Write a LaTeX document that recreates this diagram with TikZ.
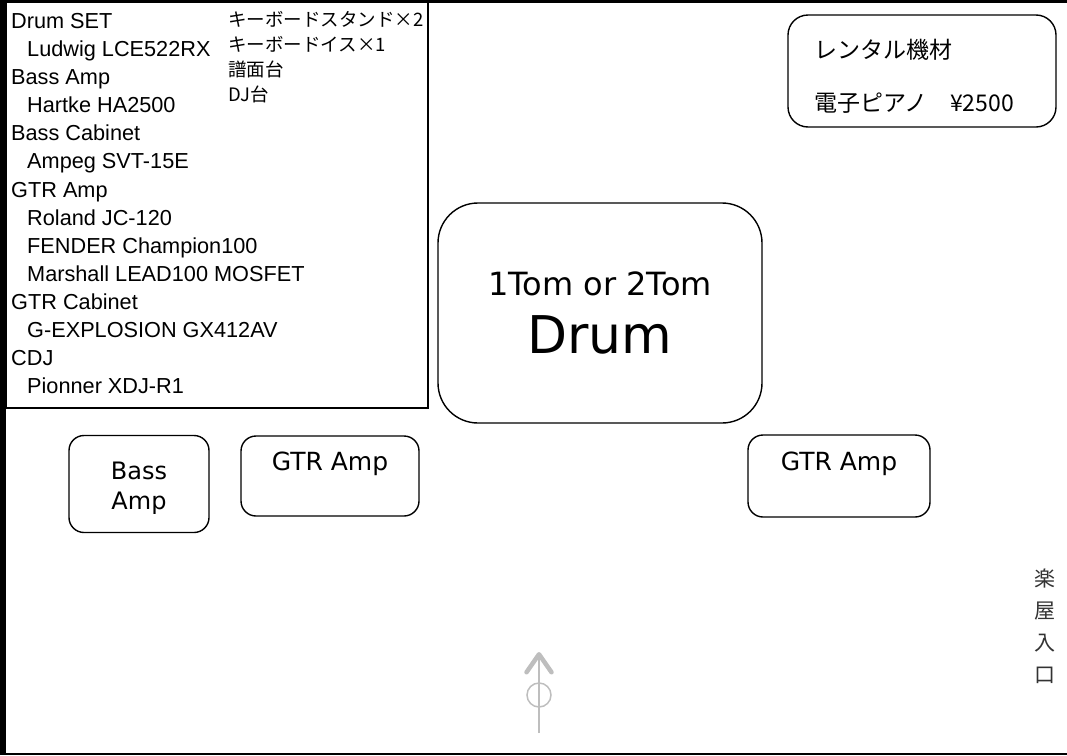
\documentclass[tikz,border=0pt]{standalone}
\usepackage{fontspec}
\setmainfont{Liberation Sans}
\newfontfamily\jpfont{Noto Sans CJK JP}
\newfontfamily\boxfont{DejaVu Sans}
\usetikzlibrary{arrows.meta}
\definecolor{doorgray}{HTML}{BEBEBE}
\newcommand{\pxsize}[2]{\fontsize{#1}{#2}\selectfont}

\begin{document}
\begin{tikzpicture}[x=1pt, y=-1pt,
	stagebox/.style={draw, line width=1.4pt, rounded corners=#1, inner sep=0pt},
	stagebox/.default=15pt,
	stagetext/.style={anchor=base, inner sep=0pt, font=\boxfont\pxsize{#1}{#1}},
	stagetext/.default=25,
	listhead/.style={anchor=base west, inner sep=0pt, font=\pxsize{21.7}{25}},
	listitem/.style={listhead},
	extra/.style={anchor=base west, inner sep=0pt, font=\jpfont\pxsize{18.5}{22}}]
	\useasboundingbox (0,0) rectangle (1067,755);
	% equipment list
	\draw [line width=1.2pt] (6,0) rectangle (428,408);
	\node[listhead] (drumset)  at (11,28)  {Drum SET};
	\node[listitem] (ludwig)   at (27,56)  {Ludwig LCE522RX};
	\node[listhead] (bassamp)  at (11,84)  {Bass Amp};
	\node[listitem] (hartke)   at (27,112) {Hartke HA2500};
	\node[listhead] (basscab)  at (11,140) {Bass Cabinet};
	\node[listitem] (ampeg)    at (27,168) {Ampeg SVT-15E};
	\node[listhead] (gtramp)   at (11,197) {GTR Amp};
	\node[listitem] (roland)   at (27,225) {Roland JC-120};
	\node[listitem] (fender)   at (27,253) {FENDER Champion100};
	\node[listitem] (marshall) at (27,281) {Marshall LEAD100 MOSFET};
	\node[listhead] (gtrcab)   at (11,309) {GTR Cabinet};
	\node[listitem] (gexp)     at (27,337) {G-EXPLOSION GX412AV};
	\node[listhead] (cdj)      at (11,365) {CDJ};
	\node[listitem] (pionner)  at (27,393) {Pionner XDJ-R1};
	\node[extra] (kbstand) at (228,26)  {キーボードスタンド×2};
	\node[extra] (kbchair) at (228,51)  {キーボードイス×1};
	\node[extra] (score)   at (228,76)  {譜面台};
	\node[extra] (djdesk)  at (228,101) {DJ台};
	% rental
	\node[stagebox=20pt, minimum width=268pt, minimum height=112pt] (rental) at (922,71) {};
	\node[anchor=base west, inner sep=0pt, font=\jpfont\pxsize{23}{28}] (rentaltitle) at (814,58) {レンタル機材};
	\node[anchor=base west, inner sep=0pt, font=\jpfont\pxsize{23}{28}] (piano) at (814,111) {電子ピアノ　¥2500};
	% stage
	\node[stagebox=40pt, minimum width=324pt, minimum height=220pt] (drum) at (600,313) {};
	\node[stagetext=32] (tom) at (600,295) {1Tom or 2Tom};
	\node[stagetext=52] (drumtxt) at (600,353) {Drum};
	\node[stagebox, minimum width=140pt, minimum height=97pt] (bass) at (139,484) {};
	\node[stagetext=24] (bassline1) at (139,479) {Bass};
	\node[stagetext=24] (bassline2) at (139,509) {Amp};
	\node[stagebox, minimum width=178pt, minimum height=80pt] (gtrleft) at (330,476) {};
	\node[stagetext] (gtrlefttxt) at (330,470) {GTR Amp};
	\node[stagebox, minimum width=182pt, minimum height=82pt] (gtrright) at (839,476) {};
	\node[stagetext] (gtrrighttxt) at (839,470) {GTR Amp};
	% entrance
	\node[align=center, inner sep=0pt, text=black!80, font=\jpfont\pxsize{21}{32}] (backstage) at (1045,626) {楽\\屋\\入\\口};
	\node[circle, draw=doorgray, line width=1.5pt, minimum size=24pt, inner sep=0pt] (door) at (539,695) {};
	\coordinate (entry) at (539,733);
	\coordinate (front) at (539,652);
	\draw [doorgray, line width=2.7pt, -{Straight Barb[length=18pt, width=25pt, line width=4.5pt, round]}] (entry) -- (front);
	% walls
	\draw [line width=6pt] (3,0) -- (3,755);
	\draw [line width=3pt] (0,1.5) -- (1067,1.5);
	\draw [line width=2pt] (0,754) -- (1067,754);
\end{tikzpicture}
\end{document}
